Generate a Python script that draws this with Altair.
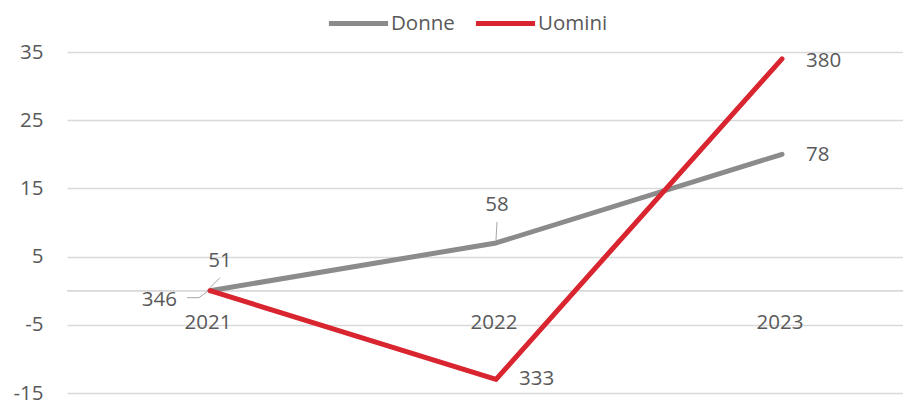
import altair as alt
import pandas as pd

years = [2021, 2022, 2023]
series_names = ["Donne", "Uomini"]
donne = [0, 7, 20]
uomini = [0, -13, 34]
donne_labels = ["51", "58", "78"]
uomini_labels = ["346", "333", "380"]
y_ticks = [-15, -5, 5, 15, 25, 35]

GRAY = "#8b8b8b"
RED = "#d9252f"
TXT = "#595959"
GRID = "#d9d9d9"
FONT = "Open Sans"
FS = 20.5

rows = []
for s, vals, labs in [("Donne", donne, donne_labels), ("Uomini", uomini, uomini_labels)]:
    for yr, v, lab in zip(years, vals, labs):
        rows.append({"series": s, "year": yr, "value": v, "label": lab, "zero": 0})
df = pd.DataFrame(rows)

xscale = alt.Scale(domain=[2020.5, 2023.423], nice=False, zero=False)
yscale = alt.Scale(domain=[-15, 35], nice=False, zero=False)

base = alt.Chart(df)
X = alt.X("year:Q", scale=xscale, axis=None)

zero_rule = base.mark_rule(color=GRID, strokeWidth=1.3).encode(
    y=alt.Y("zero:Q", scale=yscale)
)

lines = base.mark_line(strokeWidth=5, strokeCap="round", strokeJoin="round").encode(
    x=X,
    y=alt.Y("value:Q", scale=yscale,
            axis=alt.Axis(values=y_ticks, grid=True, gridColor=GRID, gridWidth=1.3,
                          domain=False, ticks=False, labelPadding=24,
                          labelExpr="'' + datum.value",
                          labelFont=FONT, labelFontSize=FS, labelColor=TXT, title=None)),
    color=alt.Color("series:N",
                    scale=alt.Scale(domain=series_names, range=[GRAY, RED]),
                    legend=alt.Legend(orient="none", legendX=259, legendY=-61,
                                      direction="horizontal", title=None,
                                      symbolType="stroke", symbolSize=3500,
                                      symbolStrokeWidth=5, labelOffset=0,
                                      columnPadding=10, padding=0,
                                      labelFont=FONT, labelFontSize=FS, labelColor=TXT)),
    order=alt.Order("year:Q"),
)

year_labels = base.transform_filter(alt.datum.series == "Donne").mark_text(
    font=FONT, fontSize=FS, color=TXT, dy=32, dx=-2, baseline="middle"
).encode(
    x=X,
    y=alt.Y("zero:Q", scale=yscale),
    text=alt.Text("year:Q", format="d"),
)

# data label placement (series, year, dx, dy, align)
placements = [
    ("Donne", 2021, 10, -30, "center"),
    ("Donne", 2022, 1, -38, "center"),
    ("Donne", 2023, 24, 1, "left"),
    ("Uomini", 2021, -33, 9, "right"),
    ("Uomini", 2022, 23, 0, "left"),
    ("Uomini", 2023, 24, 2, "left"),
]
label_layers = []
for s, yr, dx, dy, al in placements:
    label_layers.append(
        base.transform_filter(
            (alt.datum.series == s) & (alt.datum.year == yr)
        ).mark_text(font=FONT, fontSize=FS, color=TXT, dx=dx, dy=dy,
                    align=al, baseline="middle").encode(
            x=X,
            y=alt.Y("value:Q", scale=yscale),
            text="label:N",
        )
    )

# leader lines (offsets relative to data point)
leaders = [
    ("Donne", 2021, 0, -3, 10, -13),
    ("Donne", 2022, 0, -3, 1, -21),
    ("Uomini", 2021, -3, 1, -11, 7),
    ("Uomini", 2021, -11, 7, -23, 7),
]
leader_layers = []
for s, yr, x1, y1, x2, y2 in leaders:
    leader_layers.append(
        base.transform_filter(
            (alt.datum.series == s) & (alt.datum.year == yr)
        ).mark_rule(color="#a6a6a6", strokeWidth=1,
                    xOffset=x1, yOffset=y1, x2Offset=x2, y2Offset=y2).encode(
            x=X,
            y=alt.Y("value:Q", scale=yscale),
            x2="year:Q",
            y2="value:Q",
        )
    )

chart = alt.layer(zero_rule, *leader_layers, lines, year_labels, *label_layers).properties(
    width=836, height=341,
    autosize=alt.AutoSizeParams(type="none"),
    padding={"left": 59, "top": 44, "right": 0, "bottom": 7},
    background="white",
).configure_view(stroke=None)

chart.save("out.html", embed_options={"renderer": "svg", "actions": False})
